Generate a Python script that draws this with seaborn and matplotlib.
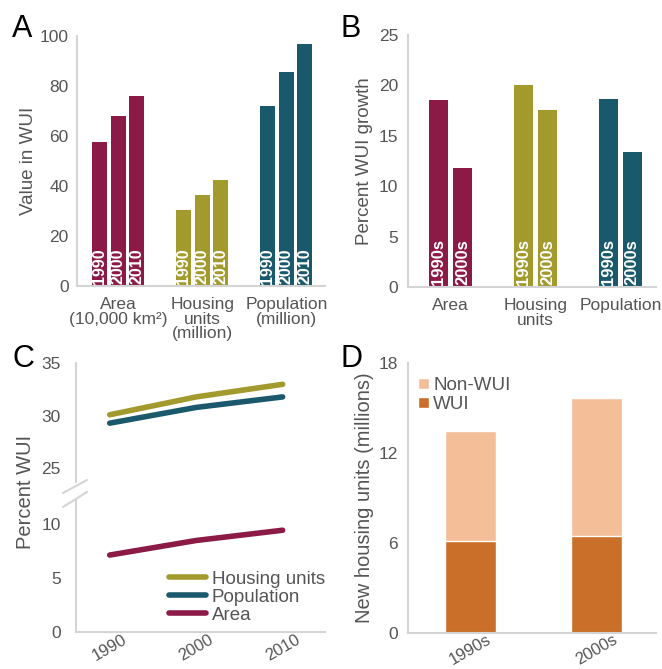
import matplotlib
matplotlib.use("Agg")
from matplotlib import pyplot as plt
from matplotlib.lines import Line2D
import seaborn as sns
import pandas as pd

# panel A: value in WUI
categories_a = ["Area\n(10,000 km²)", "Housing\nunits\n(million)", "Population\n(million)"]
years = ["1990", "2000", "2010"]
area_values = [57.6, 68.0, 76.1]
housing_values = [30.4, 36.5, 42.5]
population_values = [71.9, 85.6, 96.8]

# panel B: percent WUI growth
categories_b = ["Area", "Housing\nunits", "Population"]
decades = ["1990s", "2000s"]
area_growth = [18.6, 11.8]
housing_growth = [20.0, 17.6]
population_growth = [18.7, 13.4]

# panel C: percent WUI
line_years = [1990, 2000, 2010]
pct_housing = [30.1, 31.8, 33.0]
pct_population = [29.3, 30.8, 31.8]
pct_area = [7.1, 8.45, 9.4]

# panel D: new housing units (millions)
new_total = [13.5, 15.7]
new_wui = [6.1, 6.45]

AREA_C = "#8b1a46"
HOUSING_C = "#a39a2e"
POP_C = "#19596b"
WUI_C = "#c96f29"
NONWUI_C = "#f4be98"
TEXT_C = "#555555"
SPINE_C = "#d4d4d4"
group_colors = [AREA_C, HOUSING_C, POP_C]

sns.set_style("white")
plt.rcParams["font.family"] = ["Liberation Sans", "DejaVu Sans"]

W, H = 662, 669
fig = plt.figure(figsize=(W / 100, H / 100), dpi=100)


def box(left, top, right, bottom):
    return [left / W, 1 - bottom / H, (right - left) / W, (bottom - top) / H]


ax_a = fig.add_axes(box(77, 36, 325, 286))
ax_b = fig.add_axes(box(408, 35, 656, 287))
ax_c1 = fig.add_axes(box(76, 363.3, 325, 482))
ax_c2 = fig.add_axes(box(76, 500, 325, 631.7))
ax_d = fig.add_axes(box(408.3, 363.3, 656, 632.7))


def style(ax, bottom=True, ypad=7, xpad=7):
    sns.despine(ax=ax, bottom=not bottom)
    for side in ["left", "bottom"]:
        ax.spines[side].set_color(SPINE_C)
        ax.spines[side].set_linewidth(1.5)
    ax.tick_params(length=0, labelsize=12.5, colors=TEXT_C)
    ax.tick_params(axis="y", pad=ypad)
    ax.tick_params(axis="x", pad=xpad)


# ---- A
df_a = pd.DataFrame({
    "category": [c for c in categories_a for _ in years],
    "year": years * 3,
    "value": area_values + housing_values + population_values,
})
sns.barplot(data=df_a, x="category", y="value", hue="year", order=categories_a,
            hue_order=years, width=0.66, gap=0.18, saturation=1,
            errorbar=None, legend=False, ax=ax_a)
for year, cont in zip(years, ax_a.containers):
    for bar, col in zip(cont, group_colors):
        bar.set_facecolor(col)
        bar.set_edgecolor("none")
        ax_a.text(bar.get_x() + bar.get_width() / 2, 0.6, year, rotation=90,
                  ha="center", va="bottom", color="white", fontweight="bold",
                  fontsize=11.5)
ax_a.set_xlim(-0.49, 2.46)
ax_a.set_ylim(0, 100)
ax_a.set_yticks(range(0, 101, 20))
ax_a.set_xlabel("")
ax_a.set_ylabel("Value in WUI", fontsize=13.5, color=TEXT_C, labelpad=2)
style(ax_a, ypad=6, xpad=8)
for lab in ax_a.get_xticklabels():
    lab.set_linespacing(0.95)

# ---- B
df_b = pd.DataFrame({
    "category": [c for c in categories_b for _ in decades],
    "decade": decades * 3,
    "value": area_growth + housing_growth + population_growth,
})
sns.barplot(data=df_b, x="category", y="value", hue="decade", order=categories_b,
            hue_order=decades, width=0.565, gap=0.2, saturation=1,
            errorbar=None, legend=False, ax=ax_b)
for dec, cont in zip(decades, ax_b.containers):
    for bar, col in zip(cont, group_colors):
        bar.set_facecolor(col)
        bar.set_edgecolor("none")
        ax_b.text(bar.get_x() + bar.get_width() / 2, 0.15, dec, rotation=90,
                  ha="center", va="bottom", color="white", fontweight="bold",
                  fontsize=12)
ax_b.set_xlim(-0.5, 2.42)
ax_b.set_ylim(0, 25)
ax_b.set_yticks(range(0, 26, 5))
ax_b.set_xlabel("")
ax_b.set_ylabel("Percent WUI growth", fontsize=13.5, color=TEXT_C, labelpad=4)
style(ax_b, ypad=7, xpad=8)
for lab in ax_b.get_xticklabels():
    lab.set_linespacing(0.95)

# ---- C (broken y axis)
series_c = [("Housing units", pct_housing, HOUSING_C),
            ("Population", pct_population, POP_C),
            ("Area", pct_area, AREA_C)]
for ax in (ax_c1, ax_c2):
    for name, vals, col in series_c:
        sns.lineplot(x=line_years, y=vals, color=col, linewidth=4,
                     solid_capstyle="round", label=name, ax=ax)
    ax.set_xlim(1986.1, 2014.9)
ax_c1.get_legend().remove()
ax_c1.set_ylim(23.7, 35)
ax_c1.set_yticks([25, 30, 35])
ax_c1.set_xticks([])
ax_c2.set_ylim(0, 12.2)
ax_c2.set_yticks([0, 5, 10])
ax_c2.set_xticks(line_years)
style(ax_c1, bottom=False, ypad=11)
style(ax_c2, ypad=11, xpad=0.5)
plt.setp(ax_c2.get_xticklabels(), rotation=30, ha="center", fontsize=12)
leg_c = ax_c2.legend(loc="lower right", bbox_to_anchor=(1.0, 0.06), frameon=False,
                     fontsize=13.5, handlelength=2, handletextpad=0.3,
                     labelspacing=0.05, borderpad=0, borderaxespad=0)
for t in leg_c.get_texts():
    t.set_color(TEXT_C)
for ln in leg_c.get_lines():
    ln.set_linewidth(4)
    ln.set_solid_capstyle("round")
fig.text(26 / W, 1 - 492 / H, "Percent WUI", rotation=90, ha="center", va="center",
         fontsize=14.5, color=TEXT_C)
for y0, y1 in [(493, 480), (507, 492)]:
    fig.add_artist(Line2D([63 / W, 87 / W], [1 - y0 / H, 1 - y1 / H],
                          color=SPINE_C, lw=1.5, transform=fig.transFigure))

# ---- D
sns.barplot(x=decades, y=new_total, color=NONWUI_C, width=0.4, saturation=1,
            label="Non-WUI", ax=ax_d)
sns.barplot(x=decades, y=new_wui, color=WUI_C, width=0.4, saturation=1,
            label="WUI", ax=ax_d)
ax_d.set_xlim(-0.49, 1.47)
ax_d.set_ylim(0, 18)
ax_d.set_yticks([0, 6, 12, 18])
ax_d.set_ylabel("New housing units (millions)", fontsize=14.5, color=TEXT_C,
                labelpad=3)
style(ax_d, ypad=7.5, xpad=-0.5)
plt.setp(ax_d.get_xticklabels(), rotation=30, ha="center", fontsize=12)
leg_d = ax_d.legend(loc="upper left", bbox_to_anchor=(0.04, 0.948), frameon=False,
                    fontsize=13.5, handlelength=0.55, handleheight=0.55,
                    handletextpad=0.25, labelspacing=0.1, borderpad=0,
                    borderaxespad=0)
for t in leg_d.get_texts():
    t.set_color(TEXT_C)

# panel letters
for letter, x, y in [("A", 12, 37), ("B", 340, 37), ("C", 12, 367), ("D", 340, 367)]:
    fig.text(x / W, 1 - y / H, letter, fontsize=22, color="black", va="baseline")

fig.savefig("out.png", dpi=100)
